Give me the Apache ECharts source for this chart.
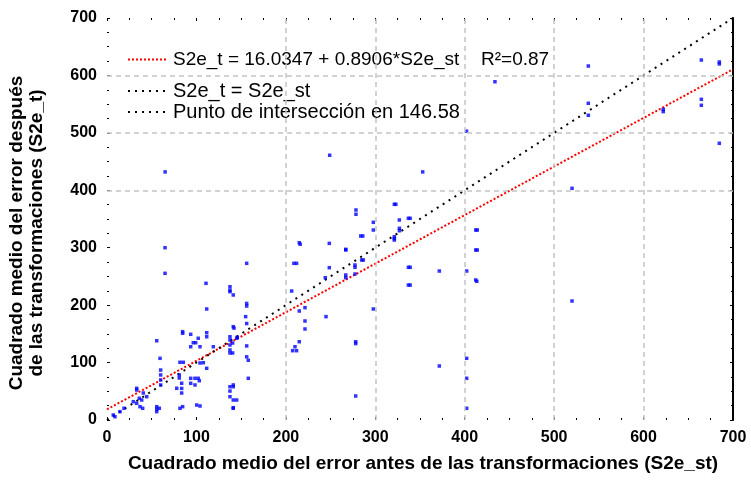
<!DOCTYPE html>
<html><head><meta charset="utf-8">
<script src="https://cdn.jsdelivr.net/npm/echarts@6/dist/echarts.min.js"></script>
<style>html,body{margin:0;padding:0;background:#fff}#c{width:751px;height:481px}</style>
</head><body><div id="c"></div>
<script>
// ---- data ----
const axisMin = 0, axisMax = 700, axisStep = 100;
const gridX = [200, 300, 400, 500, 600];
const gridY = [400, 500, 600];
const blueX = [137.5,111.5,84.6,84.6,93.6,111.5,111.5,55.6,102,99.2,96.5,93.6,104,118.9,137.5,137.5,137.5,137.5,137.5,145,59.3,81.6,85.3,104,107.7,111.5,60,60,60,60,80.8,80.8,93.6,98.4,102,93.6,98.4,83.5,83.5,83.5,78,103.2,33.2,33.2,40.6,44.4,36.1,38.8,29.4,33.2,36.9,39.9,19,14.5,7,8.9,55.6,55.6,55.6,58.5,81.6,84.6,100.3,104,137.5,137.5,137.5,141.2,145,
  64.9,64.9,110.7,137.5,137.5,141.2,156.2,156.2,156.2,155,156.2,141.2,142,145.7,140.5,140.5,156.2,156.2,158,158,141.2,141.2,141.2,141.2,215,216,209,212,206.5,221.4,215,221.4,221.4,215,210.2,207.6,212,248.6,267,248.6,244.1,267,244.9,
  321.3,323,278.4,278.4,297.8,297.8,326.9,337,339,327,327,321.3,321.3,321.3,283.7,286,267,284.8,286.6,277.3,277.3,267,277.3,337,339,371.6,337,339,402.2,412.3,414,412.3,414,412.3,413.5,297.8,278.1,278.1,371.6,278.1,402.2,402.2,402.2,520,520,
  538.2,538.2,538.2,622,622,664.6,684.7,684.7,664.6,664.6,684.7,433.8,402,353,249,65];
const blueY = [223.4,193.3,153.8,151,149.2,152,145,138,142.3,134.6,134.6,127.6,127.6,127.6,145,139.3,130.6,121.9,116.7,142.3,107.4,100.5,100.5,99.3,99.8,90,87,78.4,69.7,61,78.4,73.1,72.6,72.6,72.6,63.9,61,64,55,47,55.2,68.4,55.2,52.2,47,40.6,37.8,34.8,31.9,29.1,23.2,20.4,20.4,14.5,8.7,5.7,23.2,18.8,14.5,20.4,20.4,23.2,26.1,24.4,58,50.4,40.6,20.4,34.8,
  300,255.4,238,232,226,217.7,272.8,203,198.5,180,168,162.5,160,144,134,116.7,129,110,104,72.6,58,61,34.8,21.4,308.7,306,272.8,272.8,224.6,195.6,189.8,172.4,158.5,136.3,127.6,120.7,120.7,307.6,297.2,265.2,247.8,252.5,180,
  375.6,375.6,365.7,358.2,344.2,330.8,348.3,351.2,351.2,333.8,329.6,319.2,316,313.4,320.4,320.4,296,278.6,278.6,269.9,265.9,247.8,254.2,265.9,265.9,259.4,235,235,259.4,330.8,330.8,296,296,243.8,241.5,193.3,136.3,133,94,41.8,107.4,72.6,20.4,403.4,207.2,
  616.4,551.5,530.6,541,537,626.8,623.4,620,558.4,548,481.8,589,503,432,461,432];
const fitX = [0, 700];
const fitY = [18.5, 610.6];
const idX = [0, 700];
const idY = [0, 700];
const legendNames = ['S2e_t = 16.0347 + 0.8906*S2e_st', 'S2e_t = S2e_st', 'Punto de intersección en 146.58'];
const r2Text = 'R²=0.87';
const xTitle = 'Cuadrado medio del error antes de las transformaciones (S2e_st)';
const yTitle = 'Cuadrado medio del error después\nde las transformaciones (S2e_t)';

// ---- chart ----
const FONT = '"Liberation Sans", Arial, sans-serif';
const zip = (a, b) => a.map((v, i) => [v, b[i]]);
const chart = echarts.init(document.getElementById('c'), null, {renderer: 'canvas'});

function valAxis(pos, labels, line) {
  return {
    type: 'value', position: pos, min: axisMin, max: axisMax, interval: axisStep,
    axisLine: {show: line, onZero: false, lineStyle: {color: '#000', width: 2}},
    axisTick: {show: true, inside: true, length: 3, lineStyle: {color: '#000', width: 1}},
    minorTick: {show: true, splitNumber: 4, length: 2, lineStyle: {color: '#000', width: 1}},
    splitLine: {show: false}, minorSplitLine: {show: false},
    axisLabel: {show: labels, color: '#000', fontFamily: FONT, fontWeight: 'bold', fontSize: 16, margin: 10}
  };
}

chart.setOption({
  animation: false,
  backgroundColor: '#fff',
  grid: {left: 107, right: 18, top: 18, bottom: 61, containLabel: false},
  xAxis: [valAxis('bottom', true, false), valAxis('top', false, false)],
  yAxis: [valAxis('left', true, false), valAxis('right', false, true)],
  graphic: [
    {type: 'rect', shape: {x: 160, y: 38, width: 318, height: 88}, style: {fill: '#fff'}, z: 3, silent: true},
    {type: 'text', x: 423, y: 464, z: 5, style: {text: xTitle, fill: '#000', font: 'bold 19px ' + FONT, align: 'center', verticalAlign: 'middle'}},
    {type: 'text', x: 27, y: 233, rotation: Math.PI / 2, z: 5, style: {text: yTitle, fill: '#000', font: 'bold 19px ' + FONT, align: 'center', verticalAlign: 'middle', lineHeight: 20}}
  ],
  legend: [
    {data: [legendNames[0]], orient: 'vertical', left: 127, top: 50, padding: 0, itemWidth: 40, itemHeight: 14,
     itemStyle: {opacity: 0},
     formatter: n => '{a|' + n + '}{b|' + r2Text + '}',
     textStyle: {color: '#000', fontFamily: FONT, fontSize: 19,
       rich: {a: {width: 308, fontSize: 19, fontFamily: FONT, color: '#000'}, b: {fontSize: 19, fontFamily: FONT, color: '#000'}}}},
    {data: [legendNames[1], legendNames[2]], orient: 'vertical', left: 127, top: 81, padding: 0, itemGap: 1, itemWidth: 40, itemHeight: 14,
     itemStyle: {opacity: 0},
     textStyle: {color: '#000', fontFamily: FONT, fontSize: 20}}
  ],
  series: [
    {type: 'line', name: 'grid', data: [], silent: true, z: 1,
     markLine: {silent: true, symbol: 'none', label: {show: false}, animation: false,
       lineStyle: {color: '#c4c4c4', width: 1.5, type: [5, 4]},
       data: gridX.map(v => ({xAxis: v})).concat(gridY.map(v => ({yAxis: v})))}},
    {type: 'scatter', name: 'datos', data: zip(blueX, blueY), symbol: 'rect', symbolSize: 3.5,
     itemStyle: {color: '#0000ff'}, z: 2},
    {type: 'line', name: legendNames[0], data: zip(fitX, fitY), showSymbol: false, symbol: 'none',
     lineStyle: {color: '#ff0000', width: 2, type: [2, 2]}, itemStyle: {color: '#ff0000'}, z: 2},
    {type: 'line', name: legendNames[1], data: zip(idX, idY), showSymbol: false, symbol: 'none',
     lineStyle: {color: '#000', width: 2, type: [2, 5]}, itemStyle: {color: '#000'}, z: 2},
    {type: 'line', name: legendNames[2], data: [], showSymbol: false, symbol: 'none',
     lineStyle: {color: '#000', width: 2, type: [2, 5]}, itemStyle: {color: '#000'}, z: 2}
  ]
});
</script></body></html>
